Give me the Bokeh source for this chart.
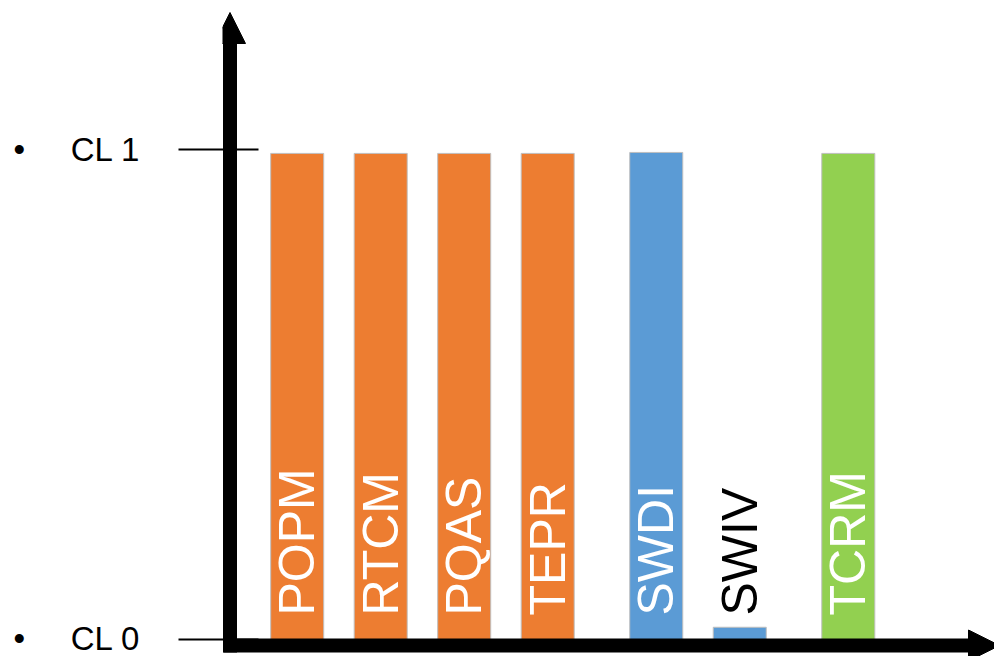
import numpy as np
from bokeh.plotting import figure
from bokeh.models import Range1d, ColumnDataSource, Arrow, NormalHead, FixedTicker
from bokeh.core.properties import value
from bokeh.embed import file_html
from bokeh.resources import INLINE

# ---- data ----
categories = ["POPM", "RTCM", "PQAS", "TEPR", "SWDI", "SWIV", "TCRM"]
groups = ["A", "A", "A", "A", "B", "B", "C"]
levels = [0.992, 0.992, 0.992, 0.992, 0.994, 0.025, 0.992]
tick_values = [0, 1]
tick_labels = ["CL 0", "CL 1"]
group_colors = {"A": "#ED7D31", "B": "#5B9BD5", "C": "#92D050"}

# ---- layout helpers ----
GAP = 0.3  # extra space between groups
pos = []
cur = 0.0
for i, g in enumerate(groups):
    if i > 0:
        cur += 1 + (GAP if g != groups[i - 1] else 0)
    pos.append(cur)

W, H = 994, 656
LEFT = 222
PPU_X = 83.5
PPU_Y = 490.0
X0_PIX = 296.7          # pixel of first bar centre
Y0_PIX = 639.0          # pixel of value 0
x_start = -(X0_PIX - LEFT) / PPU_X
x_end = x_start + (W - LEFT) / PPU_X
y_start = -(H - Y0_PIX) / PPU_Y
y_end = y_start + H / PPU_Y

def xd(px):
    return x_start + (px - LEFT) / PPU_X

def yd(py):
    return (Y0_PIX - py) / PPU_Y

colors = [group_colors[g] for g in groups]
text_colors = ["white" if v > 0.5 else "black" for v in levels]

src = ColumnDataSource(dict(x=pos, level=levels, cat=categories, color=colors,
                            tc=text_colors, y0=[0] * len(levels)))

p = figure(width=W, height=H, output_backend="svg", toolbar_location=None,
           x_range=Range1d(x_start, x_end), y_range=Range1d(y_start, y_end),
           x_axis_location=None, y_axis_location="left",
           min_border_left=LEFT, min_border_right=0, min_border_top=0, min_border_bottom=0)
p.outline_line_color = None
p.grid.visible = False
p.background_fill_color = "white"
p.border_fill_color = "white"

p.vbar(x="x", top="level", bottom=0, width=0.635, fill_color="color",
       line_color="#BFBFBF", line_width=1, source=src)

p.text(x="x", y="y0", text="cat", angle=np.pi / 2, text_align="left",
       text_baseline="middle", text_font=value("Liberation Sans"),
       text_font_size="50px", text_color="tc", y_offset=-24, source=src)

# y axis ticks / labels
ax = p.yaxis[0]
ax.ticker = FixedTicker(ticks=tick_values)
nb = "\u00a0"
ax.major_label_overrides = {t: "\u2022" + nb * 5 + lab for t, lab in zip(tick_values, tick_labels)}
ax.axis_line_color = None
ax.major_tick_line_color = "black"
ax.major_tick_line_width = 2
ax.major_tick_in = 36
ax.major_tick_out = 44
ax.minor_tick_line_color = None
ax.major_label_text_font = "Liberation Sans"
ax.major_label_text_font_size = "33px"
ax.major_label_text_color = "black"
ax.major_label_standoff = 38

# axis arrows
p.add_layout(Arrow(x_start=xd(229.5), y_start=yd(652), x_end=xd(229.5), y_end=yd(12),
                   line_color="black", line_width=14,
                   end=NormalHead(size=31, fill_color="black", line_color="black")))
p.add_layout(Arrow(x_start=xd(223), y_start=yd(645), x_end=xd(999), y_end=yd(645),
                   line_color="black", line_width=14,
                   end=NormalHead(size=31, fill_color="black", line_color="black")))

open("out.html", "w").write(file_html(p, INLINE))
